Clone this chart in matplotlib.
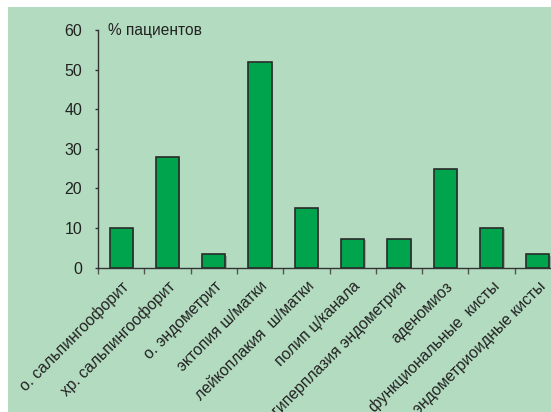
import matplotlib
matplotlib.use("Agg")
import matplotlib.pyplot as plt
from matplotlib.patches import Rectangle
import matplotlib.patheffects as pe
import numpy as np

plt.rcParams['font.family'] = ['Liberation Sans', 'DejaVu Sans']

# диагнозы и доля пациентов, %
diagnoses = ['о. сальпингоофорит', 'хр. сальпингоофорит', 'о. эндометрит',
             'эктопия ш/матки', 'лейкоплакия  ш/матки', 'полип ц/канала',
             'гиперплазия эндометрия', 'аденомиоз', 'функциональные  кисты',
             'эндометриоидные кисты']
patients_pct = [10, 28, 3.3, 52, 15, 7.2, 7.2, 25, 10, 3.3]
yticks = [0, 10, 20, 30, 40, 50, 60]

bg = '#b3dbc0'
bar_color = '#00a44c'
text_color = '#222222'

fig = plt.figure(figsize=(5.51, 4.12), dpi=100)
fig.patch.set_facecolor('white')
fig.add_artist(Rectangle((8 / 551, 0), 1, 1 - 7 / 412, transform=fig.transFigure,
                         facecolor=bg, edgecolor='none', zorder=-10))

ax = fig.add_axes([98 / 551, 1 - 267.5 / 412, 463 / 551, 237.5 / 412])
ax.set_facecolor('none')

x = np.arange(len(diagnoses))
bars = ax.bar(x, patients_pct, width=0.5, color=bar_color, edgecolor='#2a2a2a',
              linewidth=1.2, zorder=3)
for b in bars:
    b.set_path_effects([pe.SimplePatchShadow(offset=(1, -1), shadow_rgbFace='#7a8a80', alpha=0.6),
                        pe.Normal()])

ax.set_xlim(-0.5, len(diagnoses) - 0.5)
ax.set_ylim(0, 60)
ax.set_yticks(yticks)
ax.set_yticklabels([str(v) for v in yticks], fontsize=11.5, color=text_color)

# деления между категориями, подписи под центрами столбцов
ax.set_xticks(np.arange(len(diagnoses) + 1) - 0.5)
ax.set_xticklabels([])
ax.set_xticks(x, minor=True)
ax.set_xticklabels(diagnoses, minor=True, rotation=45, ha='right', va='top',
                   rotation_mode='anchor', fontsize=11.3, color=text_color)
ax.tick_params(axis='x', which='minor', length=0, pad=8)
ax.tick_params(axis='x', which='major', direction='out', length=4.5, width=1, color='#555555')
ax.tick_params(axis='y', direction='out', length=2.5, width=1, color='#333333', pad=9)

for s in ['top', 'right']:
    ax.spines[s].set_visible(False)
for s in ['left', 'bottom']:
    ax.spines[s].set_color('#333333')
    ax.spines[s].set_linewidth(1)

ax.text(0.022, 1.0, '% пациентов', transform=ax.transAxes, fontsize=11.2,
        color=text_color, ha='left', va='center')

fig.savefig('out.png', dpi=100)
